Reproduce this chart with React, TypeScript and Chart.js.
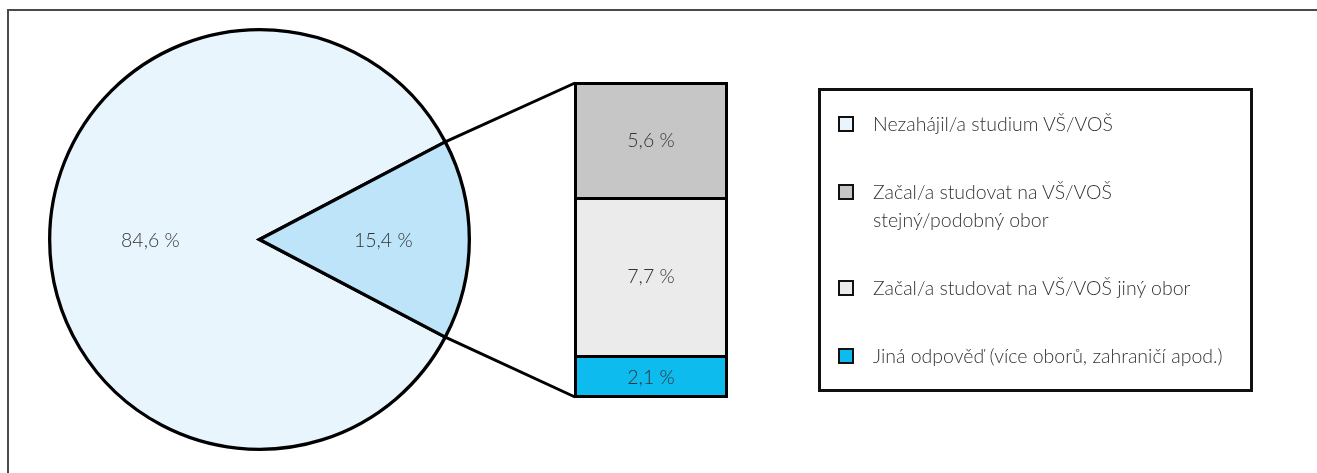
import React, { useEffect, useRef } from "react";
import { Chart, registerables } from "chart.js";
Chart.register(...registerables);

// ---- data ----
const pieLabels = ["Nezahájil/a studium VŠ/VOŠ", "Začal/a studovat na VŠ/VOŠ"];
const pieValues = [84.6, 15.4];
const pieColors = ["#E9F5FD", "#BEE4F9"];

// breakdown of the 15,4 % slice, listed top to bottom
const barLabels = [
  "Začal/a studovat na VŠ/VOŠ stejný/podobný obor",
  "Začal/a studovat na VŠ/VOŠ jiný obor",
  "Jiná odpověď (více oborů, zahraničí apod.)",
];
const barValues = [5.6, 7.7, 2.1];
const barColors = ["#C6C6C6", "#EBEBEB", "#0DBBEF"];

const legendLabels = [
  ["Nezahájil/a studium VŠ/VOŠ"],
  ["Začal/a studovat na VŠ/VOŠ", "stejný/podobný obor"],
  ["Začal/a studovat na VŠ/VOŠ jiný obor"],
  ["Jiná odpověď (více oborů, zahraničí apod.)"],
];
const legendColors = [pieColors[0], ...barColors];

// ---- layout ----
const W = 1317;
const H = 473;
const FONT_FAMILY = "Lato, 'Open Sans', sans-serif";
const FONT = `300 19.5px ${FONT_FAMILY}`;
const TEXT_COLOR = "#333333";
const BAR_LEFT = 574;
const BAR_TOP = 82;
const BAR_W = 154;
const BAR_H = 316;

const fmt = (v: number) => v.toFixed(1).replace(".", ",") + " %";

export default function App() {
  const pieRef = useRef<HTMLCanvasElement | null>(null);
  const barRef = useRef<HTMLCanvasElement | null>(null);

  useEffect(() => {
    if (!pieRef.current || !barRef.current) return;

    const barLabelPlugin = {
      id: "barLabels",
      afterDatasetsDraw(chart: any) {
        const ctx = chart.ctx;
        ctx.save();
        ctx.font = FONT;
        ctx.fillStyle = TEXT_COLOR;
        ctx.textAlign = "center";
        ctx.textBaseline = "middle";
        chart.data.datasets.forEach((ds: any, i: number) => {
          const el = chart.getDatasetMeta(i).data[0] as any;
          ctx.fillText(fmt(ds.data[0]), el.x, (el.y + el.base) / 2 + 1);
        });
        ctx.restore();
      },
    };

    const total = barValues.reduce((a, b) => a + b, 0);
    const stackBottomFirst = barValues.map((v, i) => i).reverse();
    const barChart = new Chart(barRef.current, {
      type: "bar",
      data: {
        labels: [""],
        datasets: stackBottomFirst.map((idx, k) => ({
          label: barLabels[idx],
          data: [barValues[idx]],
          backgroundColor: barColors[idx],
          borderColor: "#000",
          borderWidth: 3,
          borderSkipped: k === 0 ? false : "bottom",
          inflateAmount: 0,
          barPercentage: 1,
          categoryPercentage: 1,
        })) as any,
      },
      options: {
        animation: false,
        responsive: false,
        layout: { padding: 0 },
        scales: {
          x: { stacked: true, display: false },
          y: { stacked: true, display: false, min: 0, max: total },
        },
        plugins: { legend: { display: false }, tooltip: { enabled: false } },
      },
      plugins: [barLabelPlugin],
    });

    const pieLabelPlugin = {
      id: "pieLabels",
      afterDatasetsDraw(chart: any) {
        const ctx = chart.ctx;
        const meta = chart.getDatasetMeta(0);
        const fr = [0.52, 0.59];
        ctx.save();
        ctx.font = FONT;
        ctx.fillStyle = TEXT_COLOR;
        ctx.textAlign = "center";
        ctx.textBaseline = "middle";
        meta.data.forEach((arc: any, i: number) => {
          const mid = (arc.startAngle + arc.endAngle) / 2;
          const r = arc.outerRadius * fr[i];
          ctx.fillText(fmt(pieValues[i]), arc.x + Math.cos(mid) * r, arc.y + Math.sin(mid) * r + 1);
        });
        ctx.restore();
      },
    };

    const connectorPlugin = {
      id: "connectors",
      afterDraw(chart: any) {
        const arc = chart.getDatasetMeta(0).data[1] as any;
        const bm = barChart.getDatasetMeta(barChart.data.datasets.length - 1).data[0] as any;
        const bb = barChart.getDatasetMeta(0).data[0] as any;
        const left = BAR_LEFT + bm.x - bm.width / 2 + 1;
        const top = BAR_TOP + bm.y + 1;
        const bottom = BAR_TOP + bb.base - 1;
        const R = arc.outerRadius;
        const ctx = chart.ctx;
        ctx.save();
        ctx.strokeStyle = "#000";
        ctx.lineWidth = 3;
        ctx.beginPath();
        ctx.moveTo(arc.x + Math.cos(arc.startAngle) * R, arc.y + Math.sin(arc.startAngle) * R);
        ctx.lineTo(left, top);
        ctx.moveTo(arc.x + Math.cos(arc.endAngle) * R, arc.y + Math.sin(arc.endAngle) * R);
        ctx.lineTo(left, bottom);
        ctx.stroke();
        ctx.restore();
      },
    };

    const pieTotal = pieValues.reduce((a, b) => a + b, 0);
    const rotation = 90 - (360 * (pieValues[0] + pieValues[1] / 2)) / pieTotal;
    const pieChart = new Chart(pieRef.current, {
      type: "pie",
      data: {
        labels: pieLabels,
        datasets: [
          {
            data: pieValues,
            backgroundColor: pieColors,
            borderColor: "#000",
            borderWidth: 3.3,
            borderJoinStyle: "miter",
          } as any,
        ],
      },
      options: {
        animation: false,
        responsive: false,
        rotation,
        layout: { padding: { left: 48, top: 28, right: 846, bottom: 22 } },
        plugins: { legend: { display: false }, tooltip: { enabled: false } },
      },
      plugins: [pieLabelPlugin, connectorPlugin],
    });

    return () => {
      pieChart.destroy();
      barChart.destroy();
    };
  }, []);

  return (
    <div style={{ position: "absolute", left: 0, top: 0, width: W, height: H, overflow: "hidden", background: "#fff" }}>
      <div
        style={{
          position: "absolute",
          left: 7,
          top: 9,
          width: W - 7,
          height: H - 9,
          boxSizing: "border-box",
          borderTop: "2px solid #4a4a4a",
          borderLeft: "2px solid #4a4a4a",
        }}
      />
      <canvas ref={pieRef} width={W} height={H} style={{ position: "absolute", left: 0, top: 0 }} />
      <canvas
        ref={barRef}
        width={BAR_W}
        height={BAR_H}
        style={{ position: "absolute", left: BAR_LEFT, top: BAR_TOP }}
      />
      <div
        style={{
          position: "absolute",
          left: 818,
          top: 88,
          width: 435,
          boxSizing: "border-box",
          border: "3px solid #111",
          padding: "19px 17px",
          display: "flex",
          flexDirection: "column",
          gap: 40,
          fontFamily: FONT_FAMILY,
          fontWeight: 300,
          fontSize: 19.5,
          lineHeight: "28px",
          color: TEXT_COLOR,
        }}
      >
        {legendLabels.map((lines, i) => (
          <div key={i} style={{ display: "flex", alignItems: "flex-start" }}>
            <div
              style={{
                width: 16,
                height: 16,
                boxSizing: "border-box",
                border: "2.5px solid #111",
                background: legendColors[i],
                marginTop: 6,
                marginRight: 19,
                flex: "none",
              }}
            />
            <div>
              {lines.map((l, j) => (
                <div key={j}>{l}</div>
              ))}
            </div>
          </div>
        ))}
      </div>
    </div>
  );
}
